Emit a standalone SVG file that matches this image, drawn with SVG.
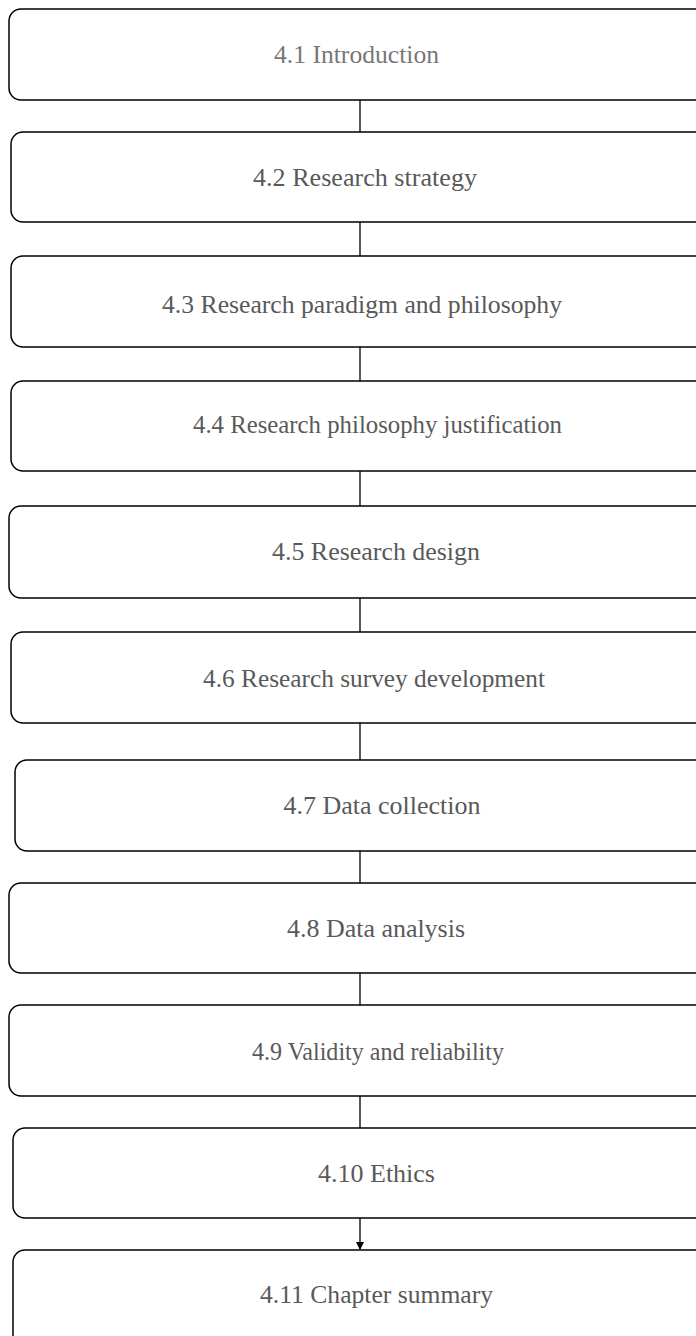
<svg xmlns="http://www.w3.org/2000/svg" width="696" height="1336" viewBox="0 0 696 1336">
<defs>
<style>
.box{fill:#fff;stroke:#000;stroke-width:1.5}
.t{font-family:"Liberation Serif","Times New Roman",serif;font-size:26px;fill:#595959;text-anchor:middle}
.c{stroke:#000;stroke-width:1.3;fill:none}
</style>
<marker id="ah" markerWidth="8" markerHeight="8" refX="7" refY="4" orient="auto" markerUnits="userSpaceOnUse">
<path d="M0,0 L8,4 L0,8 Z" fill="#000"/>
</marker>
</defs>
<rect width="696" height="1336" fill="#fff"/>
<g id="connectors">
<line class="c" x1="360" y1="100" x2="360" y2="132"/>
<line class="c" x1="360" y1="222" x2="360" y2="256"/>
<line class="c" x1="360" y1="347" x2="360" y2="381"/>
<line class="c" x1="360" y1="471" x2="360" y2="506"/>
<line class="c" x1="360" y1="598" x2="360" y2="632"/>
<line class="c" x1="360" y1="723" x2="360" y2="760"/>
<line class="c" x1="360" y1="851" x2="360" y2="883"/>
<line class="c" x1="360" y1="973" x2="360" y2="1005"/>
<line class="c" x1="360" y1="1096" x2="360" y2="1128"/>
<line class="c" x1="360" y1="1218" x2="360" y2="1249" marker-end="url(#ah)"/>
</g>
<g id="n1"><rect class="box" x="9" y="9" width="700" height="91" rx="12"/><text class="t" x="356.5" y="63" style="fill:#777" textLength="165" lengthAdjust="spacingAndGlyphs">4.1 Introduction</text></g>
<g id="n2"><rect class="box" x="11" y="132" width="700" height="90" rx="12"/><text class="t" x="365" y="186" textLength="224" lengthAdjust="spacingAndGlyphs">4.2 Research strategy</text></g>
<g id="n3"><rect class="box" x="11" y="256" width="700" height="91" rx="12"/><text class="t" x="362" y="313" textLength="400" lengthAdjust="spacingAndGlyphs">4.3 Research paradigm and philosophy</text></g>
<g id="n4"><rect class="box" x="11" y="381" width="700" height="90" rx="12"/><text class="t" x="377.5" y="433" textLength="369" lengthAdjust="spacingAndGlyphs">4.4 Research philosophy justification</text></g>
<g id="n5"><rect class="box" x="9" y="506" width="700" height="92" rx="12"/><text class="t" x="376" y="560" textLength="208" lengthAdjust="spacingAndGlyphs">4.5 Research design</text></g>
<g id="n6"><rect class="box" x="11" y="632" width="700" height="91" rx="12"/><text class="t" x="374" y="687" textLength="342" lengthAdjust="spacingAndGlyphs">4.6 Research survey development</text></g>
<g id="n7"><rect class="box" x="15" y="760" width="700" height="91" rx="12"/><text class="t" x="382" y="814" textLength="197" lengthAdjust="spacingAndGlyphs">4.7 Data collection</text></g>
<g id="n8"><rect class="box" x="9" y="883" width="700" height="90" rx="12"/><text class="t" x="376" y="937" textLength="178" lengthAdjust="spacingAndGlyphs">4.8 Data analysis</text></g>
<g id="n9"><rect class="box" x="9" y="1005" width="700" height="91" rx="12"/><text class="t" x="378" y="1060" textLength="252" lengthAdjust="spacingAndGlyphs">4.9 Validity and reliability</text></g>
<g id="n10"><rect class="box" x="13" y="1128" width="700" height="90" rx="12"/><text class="t" x="376.5" y="1182" textLength="117" lengthAdjust="spacingAndGlyphs">4.10 Ethics</text></g>
<g id="n11"><rect class="box" x="13" y="1250" width="700" height="100" rx="12"/><text class="t" x="376.5" y="1303" textLength="233" lengthAdjust="spacingAndGlyphs">4.11 Chapter summary</text></g>
</svg>
